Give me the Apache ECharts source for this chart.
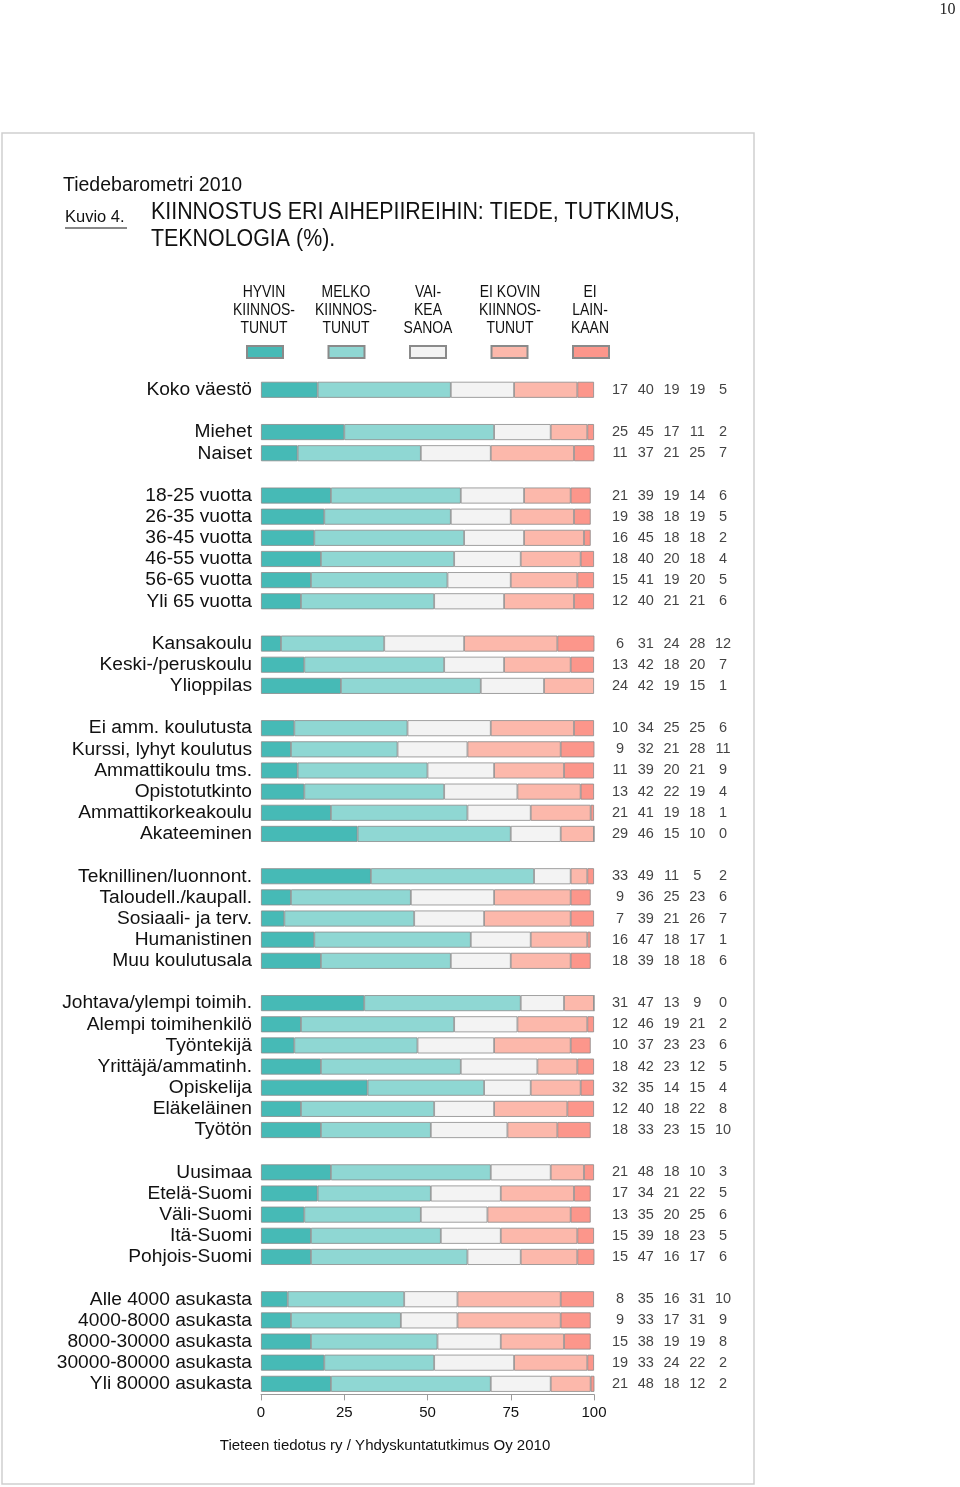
<!DOCTYPE html>
<html>
<head>
<meta charset="utf-8">
<script src="https://cdn.jsdelivr.net/npm/echarts@6/dist/echarts.min.js"></script>
<style>
html,body{margin:0;padding:0;background:#fff;}
#chart{width:960px;height:1487px;}
</style>
</head>
<body>
<div id="chart"></div>
<script>
// Groups of row labels (a blank spacer row separates groups)
var groups = [
  ['Koko väestö'],
  ['Miehet', 'Naiset'],
  ['18-25 vuotta', '26-35 vuotta', '36-45 vuotta', '46-55 vuotta', '56-65 vuotta', 'Yli 65 vuotta'],
  ['Kansakoulu', 'Keski-/peruskoulu', 'Ylioppilas'],
  ['Ei amm. koulutusta', 'Kurssi, lyhyt koulutus', 'Ammattikoulu tms.', 'Opistotutkinto', 'Ammattikorkeakoulu', 'Akateeminen'],
  ['Teknillinen/luonnont.', 'Taloudell./kaupall.', 'Sosiaali- ja terv.', 'Humanistinen', 'Muu koulutusala'],
  ['Johtava/ylempi toimih.', 'Alempi toimihenkilö', 'Työntekijä', 'Yrittäjä/ammatinh.', 'Opiskelija', 'Eläkeläinen', 'Työtön'],
  ['Uusimaa', 'Etelä-Suomi', 'Väli-Suomi', 'Itä-Suomi', 'Pohjois-Suomi'],
  ['Alle 4000 asukasta', '4000-8000 asukasta', '8000-30000 asukasta', '30000-80000 asukasta', 'Yli 80000 asukasta']
];

var seriesNames = ['HYVIN\nKIINNOS-\nTUNUT', 'MELKO\nKIINNOS-\nTUNUT', 'VAI-\nKEA\nSANOA', 'EI KOVIN\nKIINNOS-\nTUNUT', 'EI\nLAIN-\nKAAN'];

var hyvin  = [17, 25,11, 21,19,16,18,15,12, 6,13,24, 10,9,11,13,21,29, 33,9,7,16,18, 31,12,10,18,32,12,18, 21,17,13,15,15, 8,9,15,19,21];
var melko  = [40, 45,37, 39,38,45,40,41,40, 31,42,42, 34,32,39,42,41,46, 49,36,39,47,39, 47,46,37,42,35,40,33, 48,34,35,39,47, 35,33,38,33,48];
var vaikea = [19, 17,21, 19,18,18,20,19,21, 24,18,19, 25,21,20,22,19,15, 11,25,21,18,18, 13,19,23,23,14,18,23, 18,21,20,18,16, 16,17,19,24,18];
var eiKovin= [19, 11,25, 14,19,18,18,20,21, 28,20,15, 25,28,21,19,18,10, 5,23,26,17,18, 9,21,23,12,15,22,15, 10,22,25,23,17, 31,31,19,22,12];
var eiLain = [5, 2,7, 6,5,2,4,5,6, 12,7,1, 6,11,9,4,1,0, 2,6,7,1,6, 0,2,6,5,4,8,10, 3,5,6,5,6, 10,9,8,2,2];

var xTicks = [0, 25, 50, 75, 100];
var colors = ['#46bab6', '#8fd7d3', '#f3f3f3', '#fcb8ab', '#fc968b'];

// Build category list with spacer rows and map values to rows
var categories = [];
var rowIndexOfItem = [];
groups.forEach(function (g, gi) {
  if (gi > 0) categories.push('\u200b'.repeat(gi));
  g.forEach(function (name) {
    rowIndexOfItem.push(categories.length);
    categories.push(name);
  });
});
function toRows(arr) {
  var out = categories.map(function () { return null; });
  arr.forEach(function (v, i) { out[rowIndexOfItem[i]] = v; });
  return out;
}
var allSeries = [hyvin, melko, vaikea, eiKovin, eiLain];

var labelPoints = [];
allSeries.forEach(function (arr, col) {
  arr.forEach(function (v, i) { labelPoints.push([col, rowIndexOfItem[i], v]); });
});

var FONT = "'Liberation Sans', Arial, sans-serif";

var rowH = 21.15;
var gridTop = 379.2;
var gridH = rowH * categories.length;
var gridBottom = 1487 - gridTop - gridH;

var chart = echarts.init(document.getElementById('chart'), null, { renderer: 'canvas' });

var series = allSeries.map(function (arr, i) {
  return {
    name: seriesNames[i],
    type: 'bar',
    stack: 'total',
    xAxisIndex: 0,
    yAxisIndex: 0,
    barWidth: 16,
    data: toRows(arr),
    itemStyle: { color: colors[i], borderColor: '#8a8a8a', borderWidth: 0.8 },
    emphasis: { disabled: true },
    silent: true
  };
});
series.push({
  type: 'scatter',
  xAxisIndex: 1,
  yAxisIndex: 1,
  symbolSize: 1,
  itemStyle: { color: 'rgba(0,0,0,0)' },
  data: labelPoints,
  silent: true,
  label: {
    show: true,
    position: 'inside',
    formatter: function (p) { return String(p.value[2]); },
    fontFamily: FONT,
    fontSize: 14.5,
    color: '#111'
  }
});

function squeezedText(txt, x, y, size, sx, align) {
  return {
    type: 'text', x: x, y: y, scaleX: sx, scaleY: 1, silent: true,
    style: {
      text: txt, x: 0, y: 0, textAlign: align || 'left', textVerticalAlign: 'middle',
      font: size + 'px ' + FONT, fill: '#111'
    }
  };
}

var headerCenters = [264, 346, 428, 510, 590];
var headerGraphics = [];
seriesNames.forEach(function (n, i) {
  n.split('\n').forEach(function (line, li) {
    headerGraphics.push(squeezedText(line, headerCenters[i], 292 + li * 18, 17, 0.82, 'center'));
  });
});

var option = {
  animation: false,
  backgroundColor: '#fff',
  legend: {
    show: true,
    left: 241,
    top: 340,
    itemWidth: 36,
    itemHeight: 12,
    itemGap: 43.5,
    icon: 'rect',
    formatter: function () { return ''; },
    textStyle: { fontSize: 1 },
    selectedMode: false,
    data: seriesNames
  },
  grid: [
    { left: 261, right: 366, top: gridTop, bottom: gridBottom, containLabel: false },
    { left: 607.1, width: 128.75, top: gridTop, bottom: gridBottom, containLabel: false }
  ],
  xAxis: [
    {
      type: 'value', gridIndex: 0, min: 0, max: 100, interval: 25,
      axisLine: { show: true, lineStyle: { color: '#9a9a9a', width: 1 } },
      axisTick: { show: true, length: 6, lineStyle: { color: '#9a9a9a' } },
      splitLine: { show: false },
      axisLabel: {
        fontFamily: FONT, fontSize: 15, color: '#111', margin: 11,
        formatter: function (v) { return xTicks.indexOf(v) >= 0 ? String(v) : ''; }
      }
    },
    {
      type: 'value', gridIndex: 1, min: -0.5, max: 4.5, show: false
    }
  ],
  yAxis: [
    {
      type: 'category', gridIndex: 0, inverse: true, data: categories,
      axisLine: { show: false }, axisTick: { show: false },
      axisLabel: { fontFamily: FONT, fontSize: 19.2, color: '#111', margin: 9, interval: 0 }
    },
    {
      type: 'category', gridIndex: 1, inverse: true, data: categories, show: false
    }
  ],
  series: series,
  graphic: [
    { type: 'rect', shape: { x: 2, y: 133, width: 752, height: 1351 },
      style: { fill: 'none', stroke: '#cfcfcf', lineWidth: 1.5 }, silent: true, z: -10 },
    { type: 'text', x: 947.5, y: 10, silent: true,
      style: { text: '10', x: 0, y: 0, textAlign: 'center', textVerticalAlign: 'middle',
        font: '16px "Liberation Serif", "DejaVu Serif", serif', fill: '#222' } },
    squeezedText('Tiedebarometri 2010', 63, 185.5, 19.5, 1.0),
    squeezedText('Kuvio 4.', 65, 217, 16.5, 1),
    { type: 'line', silent: true, shape: { x1: 65, y1: 228, x2: 127, y2: 228 },
      style: { stroke: '#111', lineWidth: 1 } },
    squeezedText('KIINNOSTUS ERI AIHEPIIREIHIN: TIEDE, TUTKIMUS,', 151, 212.5, 23, 0.93),
    squeezedText('TEKNOLOGIA (%).', 151, 239.5, 23, 0.93),
    { type: 'text', x: 385, y: 1446, silent: true,
      style: { text: 'Tieteen tiedotus ry / Yhdyskuntatutkimus Oy 2010', x: 0, y: 0,
        textAlign: 'center', textVerticalAlign: 'middle', font: '15px ' + FONT, fill: '#111' } }
  ].concat(headerGraphics)
};

chart.setOption(option);
</script>
</body>
</html>
